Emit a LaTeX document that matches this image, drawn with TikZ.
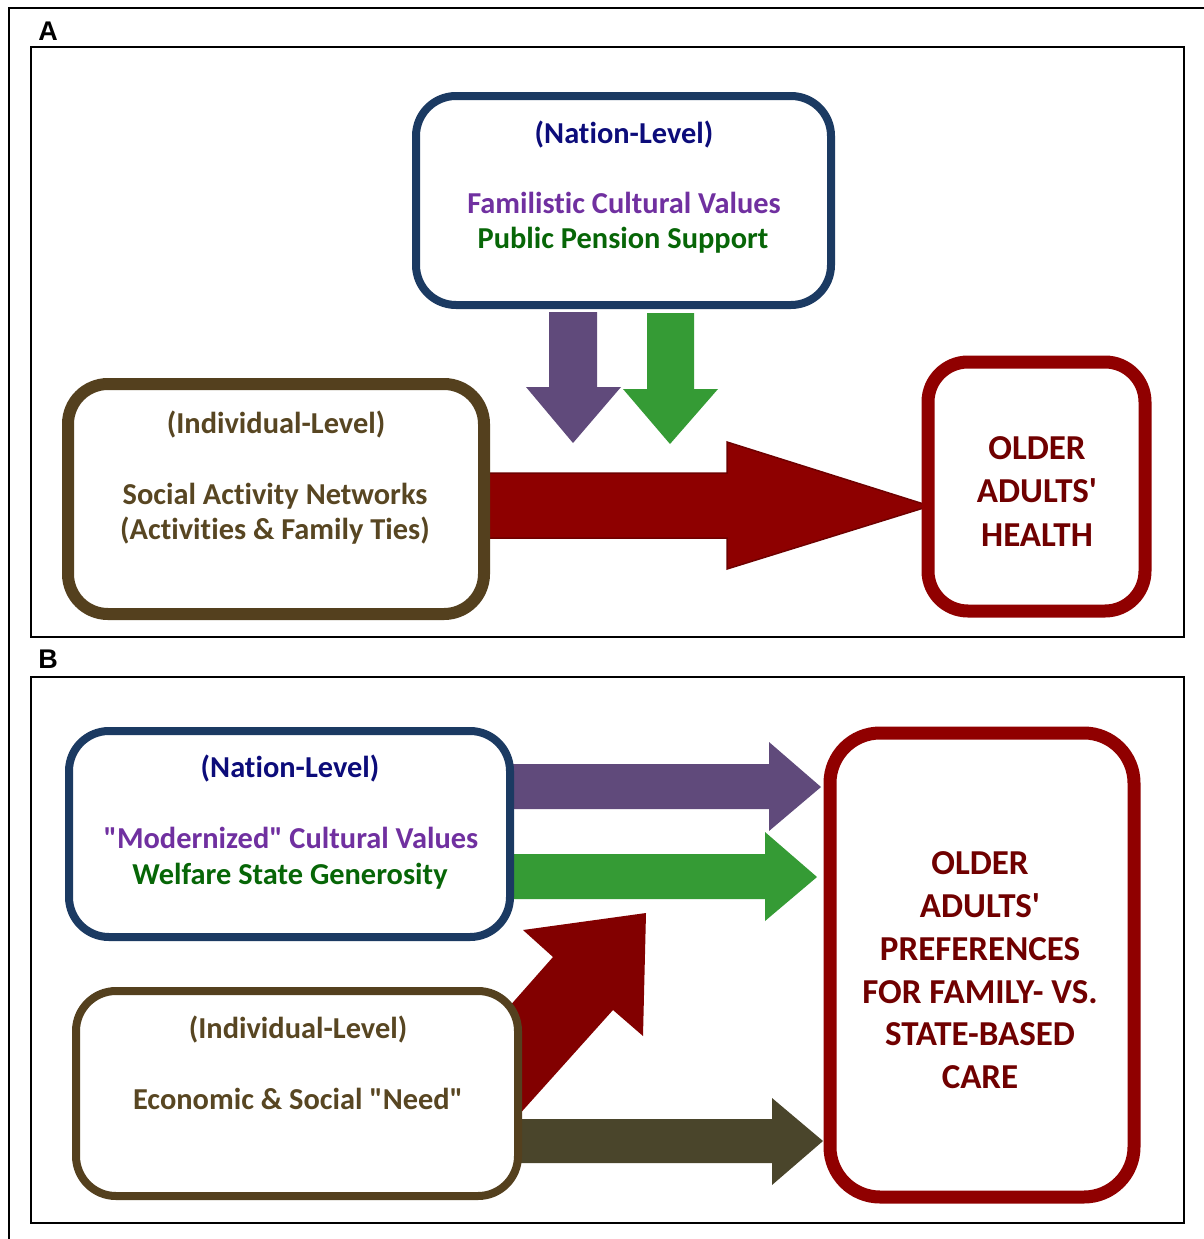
\documentclass[tikz,border=0pt]{standalone}
\usepackage{fontspec}
\setmainfont{Carlito}[Ligatures=NoCommon]
\newfontfamily\labelfont{Liberation Sans}
\definecolor{boxblue}{HTML}{1B3A62}
\definecolor{boxbrown}{HTML}{54401E}
\definecolor{boxred}{HTML}{900000}
\definecolor{arrpurple}{HTML}{604A7B}
\definecolor{arrgreen}{HTML}{359B35}
\definecolor{arrolive}{HTML}{4A452B}
\definecolor{arrred}{HTML}{8E0000}
\definecolor{arrredB}{HTML}{820000}
\definecolor{arredge}{HTML}{6E0000}
\definecolor{txtnavy}{HTML}{0C0C7A}
\definecolor{txtpurple}{HTML}{7030A0}
\definecolor{txtgreen}{HTML}{076607}
\definecolor{txtbrown}{HTML}{584622}
\definecolor{txtred}{HTML}{700000}
\tikzset{
  rbox/.style={draw, fill=white, rounded corners=40pt, inner sep=0pt},
  txt/.style={font=\bfseries\fontsize{30.4}{36}\selectfont, anchor=base, inner sep=0pt},
  captxt/.style={font=\bfseries\fontsize{35}{40}\selectfont, anchor=base, inner sep=0pt, text=txtred},
  panel/.style={draw=black, line width=2.5pt},
  plabel/.style={font=\labelfont\bfseries\fontsize{27}{30}\selectfont, inner sep=0pt}
}
\begin{document}
\begin{tikzpicture}[x=1pt,y=-1pt]
\useasboundingbox (0,0) rectangle (1204,1239);
\fill[white] (0,0) rectangle (1204,1239);
% outer frame (only left and top visible)
\draw[black, line width=2.5pt] (9,1239) -- (9,8) -- (1204,8);
% panels
\draw[panel] (31,47) rectangle (1184,637);
\draw[panel] (31,677) rectangle (1184,1223);
\node[plabel] (labA) at (48,31) {A};
\node[plabel] (labB) at (48,659) {B};

% ---------- Panel A ----------
% big red arrow
\fill[arrred, draw=arredge, line width=1.5pt] (470,473) -- (727,473) -- (727,442) -- (930,506) -- (727,569) -- (727,538) -- (470,538) -- cycle;
% down arrows
\fill[arrpurple] (549,312) -- (597,312) -- (597,387) -- (621,387) -- (573,443) -- (526,387) -- (549,387) -- cycle;
\fill[arrgreen] (647,313) -- (694,313) -- (694,389) -- (718,389) -- (670,444) -- (623,389) -- (647,389) -- cycle;

\node[rbox, draw=boxblue, line width=8pt, minimum width=415pt, minimum height=209pt] (natA) at (623.5,200.5) {};
\node[rbox, draw=boxbrown, line width=12pt, minimum width=416pt, minimum height=230pt] (indA) at (276,499) {};
\node[rbox, draw=boxred, line width=13pt, minimum width=217pt, minimum height=249pt] (healthA) at (1036.5,486.5) {};

\node[txt, text=txtnavy] (natAt1) at (624,143) {(Nation-Level)};
\node[txt, text=txtpurple] (natAt2) at (624,213) {Familistic Cultural Values};
\node[txt, text=txtgreen] (natAt3) at (623,248) {Public Pension Support};

\node[txt, text=txtbrown] (indAt1) at (276,433) {(Individual-Level)};
\node[txt, text=txtbrown] (indAt2) at (275,504) {Social Activity Networks};
\node[txt, text=txtbrown] (indAt3) at (275,539) {(Activities \& Family Ties)};

\node[captxt] (hA1) at (1037,459) {OLDER};
\node[captxt] (hA2) at (1037,502) {ADULTS\textquotesingle};
\node[captxt] (hA3) at (1037,546) {HEALTH};

% ---------- Panel B ----------
\fill[arrpurple] (505,764) -- (769,764) -- (769,742) -- (821,787) -- (769,831) -- (769,809) -- (505,809) -- cycle;
\fill[arrgreen] (505,854) -- (765,854) -- (765,832) -- (817,877) -- (765,921) -- (765,899) -- (505,899) -- cycle;
\fill[arrolive] (510,1119) -- (772,1119) -- (772,1098) -- (823,1141) -- (772,1185) -- (772,1163) -- (510,1163) -- cycle;
\fill[arrredB] (470,1051) -- (553,957) -- (523,930) -- (646,913) -- (643,1036) -- (613,1010) -- (490,1147) -- cycle;

\node[rbox, draw=boxblue, line width=8pt, minimum width=441pt, minimum height=206pt] (natB) at (289.5,834) {};
\node[rbox, draw=boxbrown, line width=8pt, minimum width=442pt, minimum height=205pt] (indB) at (297,1093.5) {};
\node[rbox, draw=boxred, line width=13pt, rounded corners=50pt, minimum width=304pt, minimum height=464pt] (prefB) at (982,965) {};

\node[txt, text=txtnavy] (natBt1) at (290,777) {(Nation-Level)};
\node[txt, text=txtpurple] (natBt2) at (291,848) {\textquotedbl Modernized\textquotedbl{} Cultural Values};
\node[txt, text=txtgreen] (natBt3) at (290,884) {Welfare State Generosity};

\node[txt, text=txtbrown] (indBt1) at (298,1038) {(Individual-Level)};
\node[txt, text=txtbrown] (indBt2) at (298,1109) {Economic \& Social \textquotedbl Need\textquotedbl};

\node[captxt] (pB1) at (980,874) {OLDER};
\node[captxt] (pB2) at (980,917) {ADULTS\textquotesingle};
\node[captxt] (pB3) at (980,960) {PREFERENCES};
\node[captxt] (pB4) at (980,1003) {FOR FAMILY- VS.};
\node[captxt] (pB5) at (980,1045) {STATE-BASED};
\node[captxt] (pB6) at (980,1088) {CARE};
\end{tikzpicture}
\end{document}
